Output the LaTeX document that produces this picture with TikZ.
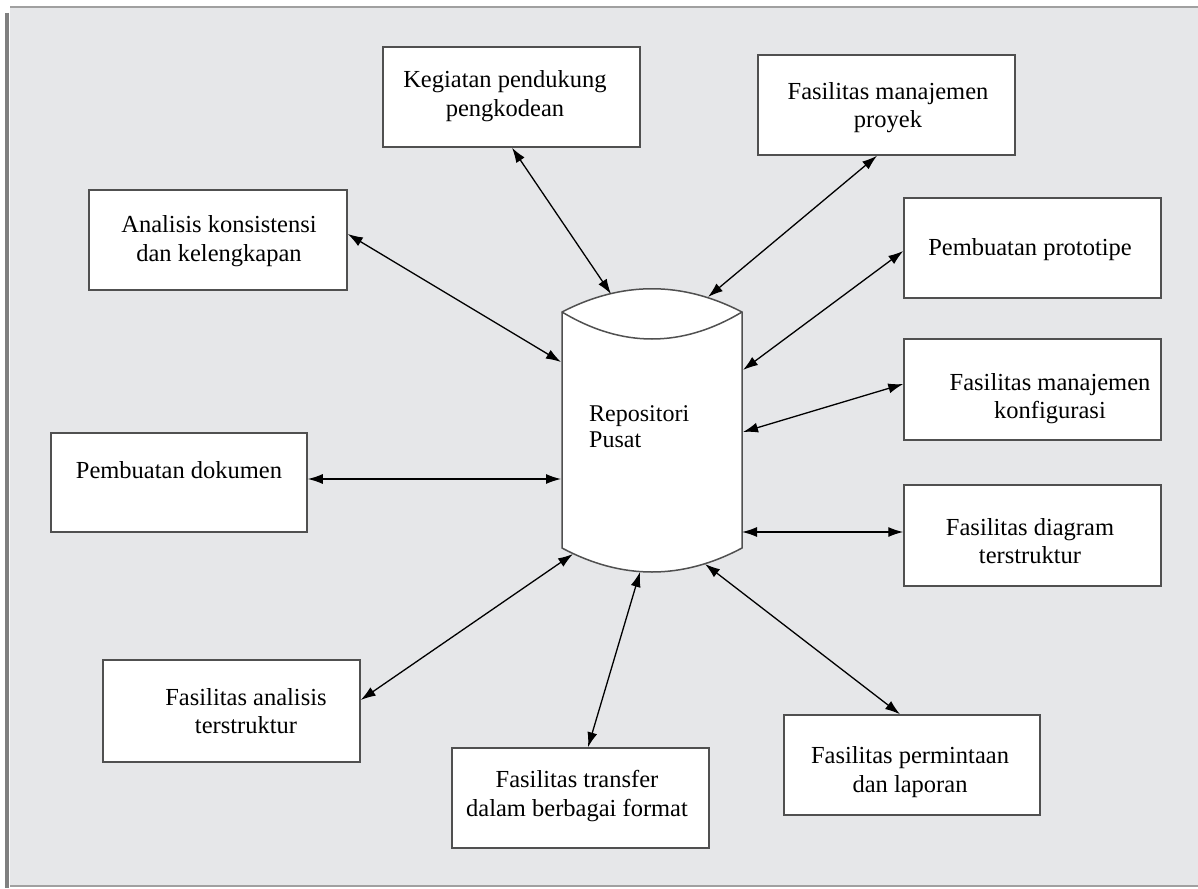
\documentclass[tikz,border=0pt]{standalone}
\usepackage{fontspec}
\setmainfont{Liberation Serif}
\usetikzlibrary{arrows.meta}
\definecolor{bg}{HTML}{E6E7E9}
\definecolor{frameL}{HTML}{808080}
\definecolor{frameT}{HTML}{A0A0A0}
\definecolor{edge}{HTML}{505050}
\begin{document}
\begin{tikzpicture}[x=1pt,y=-1pt,
  box/.style={draw=edge,line width=1.5pt,fill=white,minimum width=257pt,minimum height=100pt,inner sep=0pt},
  txt/.style={align=center,font=\fontsize{24.5}{28.5}\selectfont,inner sep=0pt},
  arr/.style={{Latex[length=15pt,width=10pt]}-{Latex[length=15pt,width=10pt]},line width=1.3pt,black}]
\useasboundingbox (0,0) rectangle (1198,888);
\fill[white] (0,0) rectangle (1198,888);
\fill[bg] (10,8) rectangle (1198,885);
\draw[frameT,line width=2pt] (10,7) -- (1198,7);
\draw[frameL,line width=4pt] (7,13) -- (7,888);
\draw[frameT,line width=2pt] (10,886) -- (1198,886);

% cylinder
\filldraw[fill=white,draw=edge,line width=1.5pt] (562,312) -- (562,548) .. controls (622,580) and (682,580) .. (742,548) -- (742,312) .. controls (682,281) and (622,281) .. (562,312) -- cycle;
\draw[edge,line width=1.5pt] (562,312) .. controls (622,348) and (682,348) .. (742,312);
\node[txt,align=left,anchor=west,font=\fontsize{24}{26}\selectfont] (rp) at (589,427) {Repositori\\Pusat};

% boxes
\node[box] (b1) at (511.5,97) {};
\node[txt] at (505,96) {Kegiatan pendukung\\pengkodean};
\node[box] (b2) at (886.5,105) {};
\node[txt] at (888,107.5) {Fasilitas manajemen\\proyek};
\node[box,minimum width=258pt] (b3) at (218,240) {};
\node[txt] at (219,241) {Analisis konsistensi\\dan kelengkapan};
\node[box] (b4) at (1032.5,248) {};
\node[txt] at (1030,250) {Pembuatan prototipe};
\node[box,minimum height=101pt] (b5) at (1032.5,389.5) {};
\node[txt] at (1050,398.5) {Fasilitas manajemen\\konfigurasi};
\node[box,minimum width=256pt,minimum height=99pt] (b6) at (179,482.5) {};
\node[txt] at (179,470) {Pembuatan dokumen};
\node[box,minimum height=101pt] (b7) at (1032.5,535.5) {};
\node[txt] at (1030,541) {Fasilitas diagram\\terstruktur};
\node[box,minimum height=102pt] (b8) at (231.5,711) {};
\node[txt] at (246,711) {Fasilitas analisis\\terstruktur};
\node[box] (b9) at (580.5,798) {};
\node[txt] at (577,796) {Fasilitas transfer\\dalam berbagai format};
\node[box,minimum width=256pt] (b10) at (912,765) {};
\node[txt] at (910,772) {Fasilitas permintaan\\dan laporan};

% attachment points on the cylinder
\coordinate (c1) at (611,294);
\coordinate (c2) at (708,297);
\coordinate (c3) at (561,362);
\coordinate (c4) at (743,370);
\coordinate (c5) at (743,432);
\coordinate (c6) at (561,479);
\coordinate (c7) at (742,532);
\coordinate (c8) at (573,554);
\coordinate (c9) at (640,572);
\coordinate (c10) at (705,564);

% connectors
\draw[arr] ([xshift=0.5pt]b1.south) -- (c1);
\draw[arr] ([xshift=-9.5pt]b2.south) -- (c2);
\draw[arr] ([yshift=6pt]b3.east) -- (c3);
\draw[arr] ([yshift=-3pt]b4.west) -- (c4);
\draw[arr] ([yshift=5.5pt]b5.west) -- (c5);
\draw[arr] ([yshift=3.5pt]b6.east) -- (c6);
\draw[arr] ([yshift=3.5pt]b7.west) -- (c7);
\draw[arr] ([yshift=11pt]b8.east) -- (c8);
\draw[arr] ([xshift=7.5pt]b9.north) -- (c9);
\draw[arr] ([xshift=-12pt]b10.north) -- (c10);
\end{tikzpicture}
\end{document}
